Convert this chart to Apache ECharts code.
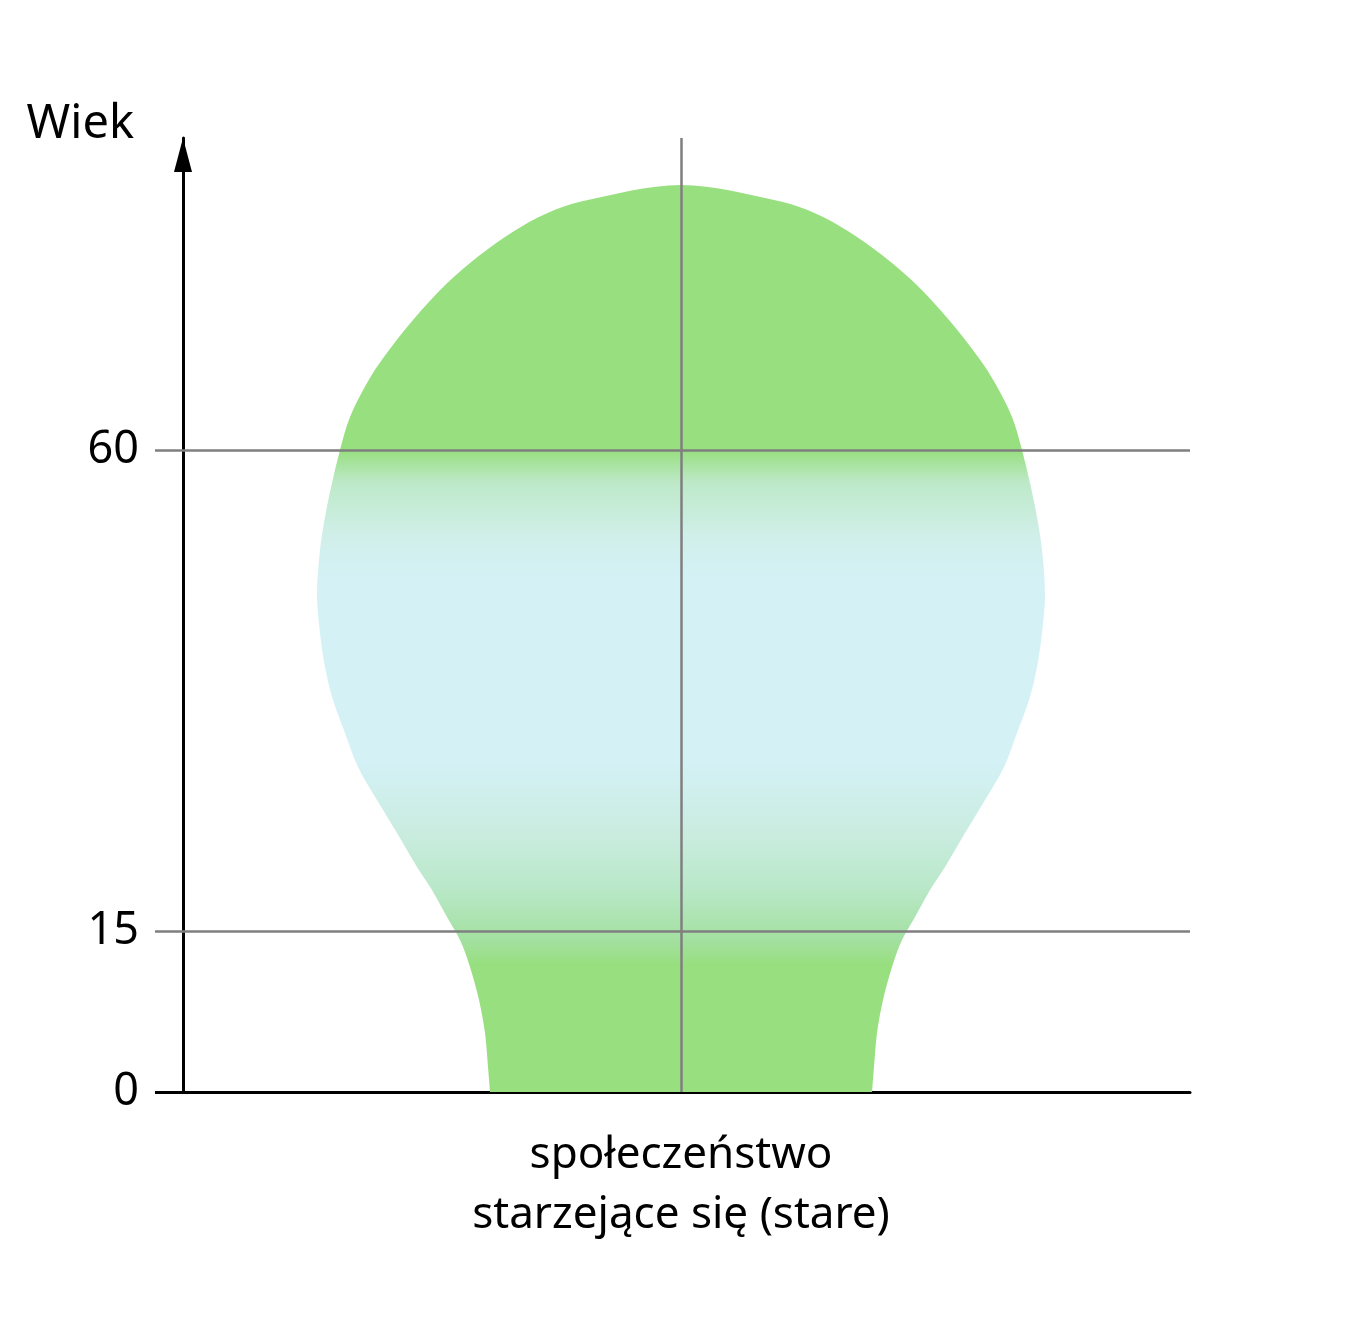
<!DOCTYPE html>
<html>
<head>
<meta charset="utf-8">
<script src="https://cdn.jsdelivr.net/npm/echarts@6/dist/echarts.min.js"></script>
<style>
  html, body { margin: 0; padding: 0; background: #ffffff; }
  #chart { width: 1363px; height: 1318px; }
</style>
</head>
<body>
<div id="chart"></div>
<script>
// Age profile of an ageing society (bulb shape).
// ages (years) and half widths of the pyramid at that age (relative units)
const ages = [0, 2.34, 5.52, 8.6, 11.69, 14.21, 16.36, 18.89, 21.04, 24.22, 27.3, 30.39, 33.57, 36.65, 39.74, 42.92,
  46.47, 50.68, 53.76, 56.94, 60.03, 63.11, 66.29, 68.6, 72.18, 75.61, 78.26, 80.44, 82.16, 83.24, 84.81];
const halfWidths = [1.91, 1.93, 1.96, 2.02, 2.11, 2.21, 2.34, 2.49, 2.64, 2.84, 3.04, 3.23, 3.36, 3.48, 3.56, 3.61,
  3.64, 3.61, 3.56, 3.49, 3.41, 3.31, 3.14, 2.98, 2.68, 2.34, 2.01, 1.68, 1.34, 1.01, 0];

const ageTicks = [0, 15, 60];      // labelled ages on the axis
const groupLines = [15, 60];       // boundaries: children / working age / elderly
const axisTitle = "Wiek";
const categoryLabel = "społeczeństwo\nstarzejące się (stare)";

// fill colour by age: green for young & old groups, light blue for working age
const GREEN = "#98df80", BLUE = "#d4f1f6";
const fillStops = [
  [84.81, GREEN], [60, GREEN], [57, "#bde9c8"], [52, "#d0efe9"], [48, BLUE],
  [31, BLUE], [24, "#c9ecdf"], [19, "#b9e8c8"], [14, "#a2e09e"], [12, GREEN], [0, GREEN]
];

const FONT = "'Noto Sans', 'Open Sans', sans-serif";
const GRID_LINE = "#7f7f7f";
const SMOOTH = 0.33;

const chart = echarts.init(document.getElementById("chart"), null, { renderer: "canvas" });

// smooth outline through the points (same idea as zrender's smoothBezier), base closed straight
function outlinePath(pts) {
  const dist = (a, b) => Math.hypot(a[0] - b[0], a[1] - b[1]);
  const n = pts.length;
  const cps = pts.map((p, i) => {
    const prev = pts[Math.max(i - 1, 0)], next = pts[Math.min(i + 1, n - 1)];
    const vx = (next[0] - prev[0]) * SMOOTH, vy = (next[1] - prev[1]) * SMOOTH;
    let d0 = dist(p, prev), d1 = dist(p, next);
    const sum = d0 + d1 || 1;
    d0 /= sum; d1 /= sum;
    return [[p[0] - vx * d0, p[1] - vy * d0], [p[0] + vx * d1, p[1] + vy * d1]];
  });
  let d = "M" + pts[0][0].toFixed(2) + "," + pts[0][1].toFixed(2);
  for (let i = 1; i < n; i++) {
    const c1 = cps[i - 1][1], c2 = cps[i][0], p = pts[i];
    d += "C" + [c1[0], c1[1], c2[0], c2[1], p[0], p[1]].map(v => v.toFixed(2)).join(",");
  }
  return d + "Z";
}

function renderBulb(params, api) {
  const left = [], right = [];
  for (let i = 0; i < ages.length; i++) {
    left.push(api.coord([-halfWidths[i], ages[i]]));
    if (i < ages.length - 1) right.push(api.coord([halfWidths[i], ages[i]]));
  }
  const points = left.concat(right.reverse());
  const yTop = api.coord([0, fillStops[0][0]])[1];
  const yBottom = api.coord([0, 0])[1];
  const colorStops = fillStops.map(s => ({
    offset: (api.coord([0, s[0]])[1] - yTop) / (yBottom - yTop),
    color: s[1]
  }));
  return {
    type: "path",
    shape: { pathData: outlinePath(points) },
    style: {
      fill: { type: "linear", x: 0, y: yTop, x2: 0, y2: yBottom, colorStops: colorStops, global: true },
      stroke: null
    }
  };
}

const option = {
  backgroundColor: "#ffffff",
  animation: false,
  grid: { left: 183, right: 173, top: 138, bottom: 226 },
  xAxis: {
    type: "value",
    min: -4.98,
    max: 5.09,
    axisLine: { onZero: false, lineStyle: { color: "#000", width: 3 } },
    axisTick: { show: false },
    axisLabel: { show: false },
    splitLine: { show: false },
    name: categoryLabel,
    nameLocation: "middle",
    nameGap: 33,
    nameTextStyle: { color: "#000", fontSize: 44, fontFamily: FONT, lineHeight: 60, padding: [0, 11, 0, 0] }
  },
  yAxis: [{
    type: "value",
    min: 0,
    max: 89.2,
    axisLine: {
      onZero: false,
      lineStyle: { color: "#000", width: 3 },
      symbol: ["none", "triangle"],
      symbolSize: [18, 34],
      symbolOffset: [0, -17]
    },
    axisTick: { customValues: groupLines, length: 28, lineStyle: { color: GRID_LINE, width: 2.5 } },
    axisLabel: { customValues: ageTicks, margin: 44, color: "#000", fontSize: 45, fontFamily: FONT },
    splitLine: { show: false },
    name: axisTitle,
    nameLocation: "end",
    nameGap: -10,
    nameTextStyle: { color: "#000", fontSize: 47, fontFamily: FONT, align: "right", verticalAlign: "bottom", padding: [0, 49, 0, 0] }
  }, {
    // black stub of the base line left of the age axis
    type: "value",
    min: 0,
    max: 89.2,
    position: "left",
    axisLine: { show: false, onZero: false },
    axisTick: { customValues: [0], length: 28, lineStyle: { color: "#000", width: 3 } },
    axisLabel: { show: false },
    splitLine: { show: false }
  }],
  series: [{
    type: "custom",
    renderItem: renderBulb,
    data: [[0, 0]],
    clip: true,
    silent: true,
    markLine: {
      silent: true,
      symbol: ["none", "none"],
      label: { show: false },
      lineStyle: { color: GRID_LINE, width: 2.5, type: "solid" },
      data: groupLines.map(a => ({ yAxis: a })).concat([{ xAxis: 0 }])
    }
  }]
};

chart.setOption(option);
window.addEventListener("resize", () => chart.resize());
</script>
</body>
</html>
